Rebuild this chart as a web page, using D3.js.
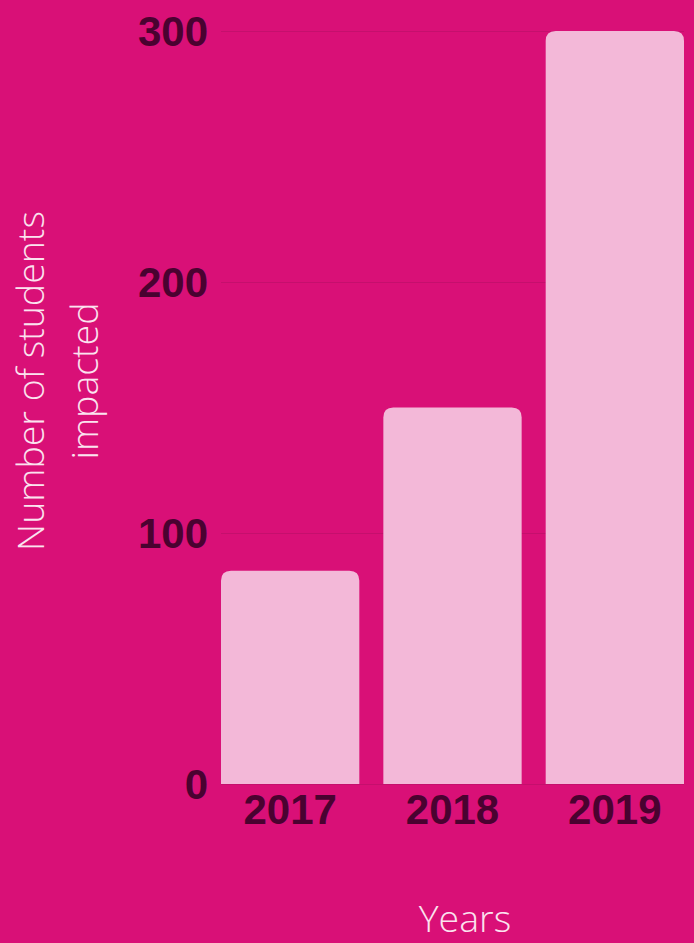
<!DOCTYPE html>
<style>
body { margin: 0; background: #d91077; }
.tick line { display: none; }
.domain { display: none; }
</style>
<svg width="694" height="943"></svg>
<script src="https://d3js.org/d3.v7.min.js"></script>
<script>

var years = ["2017", "2018", "2019"];
var students = [85, 150, 300];
var yTicks = [0, 100, 200, 300];

var svg = d3.select("svg"),
    margin = {top: 31, right: 10, bottom: 159, left: 221},
    w = +svg.attr("width") - margin.left - margin.right,
    height = +svg.attr("height") - margin.top - margin.bottom,
    g = svg.append("g").attr("transform", "translate(" + margin.left + "," + margin.top + ")");

svg.insert("rect", ":first-child")
    .attr("width", 694).attr("height", 943).attr("fill", "#d91077");

var x = d3.scaleBand()
    .domain(years)
    .range([0, w])
    .paddingInner(0.148)
    .paddingOuter(0);

var y = d3.scaleLinear()
    .domain([0, 300])
    .range([height, 0]);

// grid
g.append("g")
  .selectAll("line")
  .data(yTicks)
  .enter().append("line")
    .attr("x1", 0)
    .attr("x2", w)
    .attr("y1", function(d) { return y(d) + 0.5; })
    .attr("y2", function(d) { return y(d) + 0.5; })
    .attr("stroke", "#c50f6d")
    .attr("stroke-width", 1);

var r = 10;
g.append("g")
  .selectAll("path")
  .data(years)
  .enter().append("path")
    .attr("fill", "#f3b8d8")
    .attr("d", function(d, i) {
      var x0 = x(d), x1 = x0 + x.bandwidth(), y0 = y(0), y1 = y(students[i]);
      return "M" + x0 + "," + y0 +
        "V" + (y1 + r) +
        "Q" + x0 + "," + y1 + " " + (x0 + r) + "," + y1 +
        "H" + (x1 - r) +
        "Q" + x1 + "," + y1 + " " + x1 + "," + (y1 + r) +
        "V" + y0 + "Z";
    });

var yAxis = g.append("g")
    .call(d3.axisLeft(y).tickValues(yTicks).tickSize(0).tickPadding(13));
yAxis.selectAll("text")
    .attr("font-family", "Liberation Sans, Arial, sans-serif")
    .attr("font-weight", "bold")
    .attr("font-size", 42)
    .attr("fill", "#4a0230")
    .attr("dy", "0.35em");

var xAxis = g.append("g")
    .attr("transform", "translate(0," + height + ")")
    .call(d3.axisBottom(x).tickSize(0).tickPadding(10));
xAxis.selectAll("text")
    .attr("font-family", "Liberation Sans, Arial, sans-serif")
    .attr("font-weight", "bold")
    .attr("font-size", 42)
    .attr("fill", "#4a0230");

var yTitle = svg.append("text")
    .attr("transform", "translate(44,381) rotate(-90)")
    .attr("text-anchor", "middle")
    .attr("font-family", "Open Sans, sans-serif")
    .attr("font-weight", 300)
    .attr("font-size", 37.5)
    .attr("fill", "#fbe3ef");
yTitle.append("tspan").attr("x", 0).attr("dy", 0).text("Number of students");
yTitle.append("tspan").attr("x", 0).attr("dy", 54).text("impacted");

svg.append("text")
    .attr("x", 465)
    .attr("y", 932)
    .attr("text-anchor", "middle")
    .attr("font-family", "Open Sans, sans-serif")
    .attr("font-weight", 300)
    .attr("font-size", 37.5)
    .attr("fill", "#fbe3ef")
    .text("Years");

</script>
